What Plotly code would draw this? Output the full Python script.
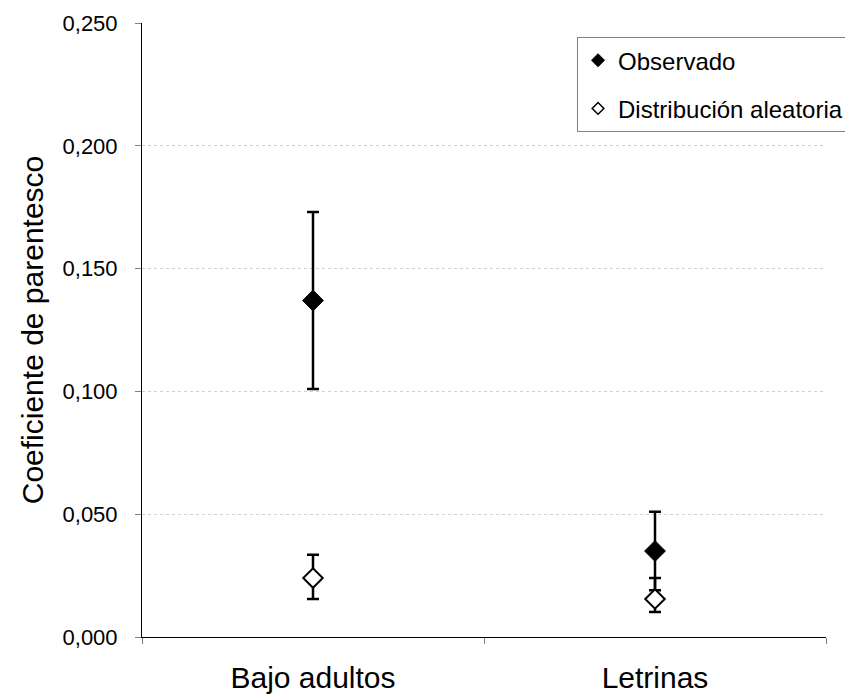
import plotly.graph_objects as go

categories = ["Bajo adultos", "Letrinas"]
obs_values = [0.137, 0.035]
obs_err_plus = [0.036, 0.016]
obs_err_minus = [0.036, 0.016]
rand_values = [0.024, 0.0155]
rand_err_plus = [0.0095, 0.0085]
rand_err_minus = [0.0085, 0.0053]
y_ticks = [0.0, 0.05, 0.10, 0.15, 0.20, 0.25]
series_names = ["Observado", "Distribución aleatoria"]

fig = go.Figure()
fig.add_trace(go.Scatter(
    x=categories, y=obs_values, mode="markers", name=series_names[0], showlegend=False,
    marker=dict(symbol="diamond", size=16, color="black", line=dict(color="black", width=1)),
    error_y=dict(type="data", symmetric=False, array=obs_err_plus, arrayminus=obs_err_minus,
                 color="black", thickness=2.5, width=6),
))
fig.add_trace(go.Scatter(
    x=categories, y=rand_values, mode="markers", name=series_names[1], showlegend=False,
    marker=dict(symbol="diamond", size=15, color="white", line=dict(color="black", width=2)),
    error_y=dict(type="data", symmetric=False, array=rand_err_plus, arrayminus=rand_err_minus,
                 color="black", thickness=2.5, width=6),
))
# legend entries with smaller symbols
fig.add_trace(go.Scatter(
    x=[None], y=[None], mode="markers", name=series_names[0], legendgroup="a",
    marker=dict(symbol="diamond", size=10, color="black", line=dict(color="black", width=1)),
))
fig.add_trace(go.Scatter(
    x=[None], y=[None], mode="markers", name=series_names[1], legendgroup="b",
    marker=dict(symbol="diamond", size=9, color="white", line=dict(color="black", width=1.5)),
))

fig.update_layout(
    width=845, height=699,
    margin=dict(l=142, r=19, t=23, b=62, autoexpand=False),
    paper_bgcolor="white", plot_bgcolor="white",
    separators=",.",
    font=dict(family="Liberation Sans, Arial, sans-serif", color="black"),
    showlegend=True,
    legend=dict(x=0.636, y=0.977, xanchor="left", yanchor="top",
                bordercolor="#808080", borderwidth=1, bgcolor="white",
                font=dict(size=24), tracegroupgap=14, itemwidth=30),
    xaxis=dict(type="category", range=[-0.5, 1.5], tickson="boundaries",
               ticks="outside", ticklen=6, tickcolor="#808080",
               showline=True, linecolor="black", linewidth=1, showgrid=False,
               tickfont=dict(size=30), zeroline=False, automargin=False,
               ticklabelstandoff=14),
    yaxis=dict(range=[0, 0.25], tickvals=y_ticks, tickformat=".3f",
               ticks="outside", ticklen=6, tickcolor="#808080",
               showline=True, linecolor="black", linewidth=1,
               showgrid=True, gridcolor="#d0d0d0", griddash="dot", gridwidth=1,
               tickfont=dict(size=22), zeroline=False, automargin=False,
               ticklabelstandoff=13,
               title=dict(text="Coeficiente de parentesco", font=dict(size=30), standoff=10)),
)

fig.write_html("out.html")
